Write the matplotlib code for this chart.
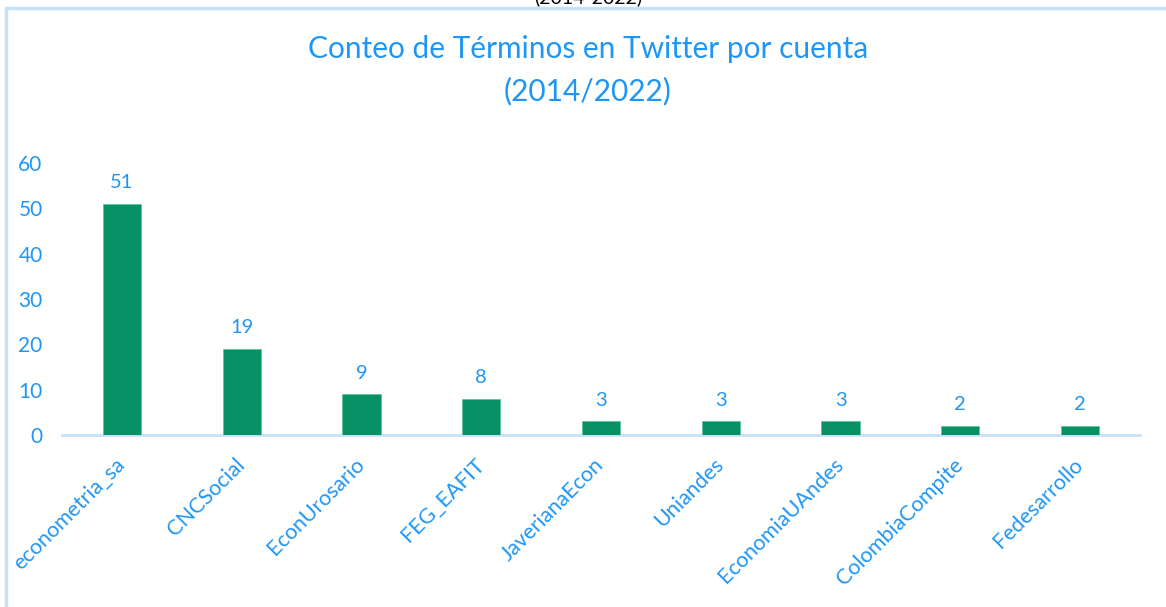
import matplotlib
matplotlib.use("Agg")
import matplotlib.pyplot as plt
from matplotlib.patches import Rectangle

cuentas = ["econometria_sa", "CNCSocial", "EconUrosario", "FEG_EAFIT", "JaverianaEcon",
           "Uniandes", "EconomiaUAndes", "ColombiaCompite", "Fedesarrollo"]
conteos = [51, 19, 9, 8, 3, 3, 3, 2, 2]
yticks = [0, 10, 20, 30, 40, 50, 60]
titulo = "Conteo de Términos en Twitter por cuenta\n(2014/2022)"

BLUE = "#1F96F5"
GREEN = "#089065"
LINE = "#C6E2FA"

plt.rcParams['font.family'] = ['Lato', 'DejaVu Sans']
fig = plt.figure(figsize=(11.66, 6.07), dpi=100)
ax = fig.add_axes([62/1166, 1-435/607, (1140-62)/1166, (435-163)/607])

x = range(len(cuentas))
ax.bar(x, conteos, width=0.32, color=GREEN, edgecolor="#5FC3A0", linewidth=0.6, zorder=3)
for xi, v in zip(x, conteos):
    ax.annotate(str(v), (xi, v), xytext=(0, 9), textcoords="offset points",
                ha="center", va="bottom", color=BLUE, fontsize=14.5)

ax.set_xlim(-0.5, len(cuentas) - 0.5)
ax.set_ylim(0, 60)
ax.set_yticks(yticks)
ax.set_yticklabels([str(t) for t in yticks], color=BLUE, fontsize=15)
ax.set_xticks(list(x))
ax.set_xticklabels(cuentas, rotation=45, ha="right", va="center", rotation_mode="anchor",
                   color=BLUE, fontsize=15.5)
ax.tick_params(axis="y", length=0, pad=14)
ax.tick_params(axis="x", length=0, pad=19)
for s in ["top", "right", "left"]:
    ax.spines[s].set_visible(False)
ax.spines["bottom"].set_color(LINE)
ax.spines["bottom"].set_linewidth(2)

fig.text(588/1166, 1-70/607, titulo, ha="center", va="center", color=BLUE,
         fontsize=21.5, linespacing=1.6)
fig.text(588/1166, 1+3/607, "(2014-2022)", ha="center", va="center", color="black", fontsize=14)

fig.patches.append(Rectangle((6/1166, -0.1), 1.2, 1 - 8/607 + 0.1, transform=fig.transFigure,
                             fill=False, edgecolor=LINE, linewidth=2.5))

fig.savefig("out.png", dpi=100)
